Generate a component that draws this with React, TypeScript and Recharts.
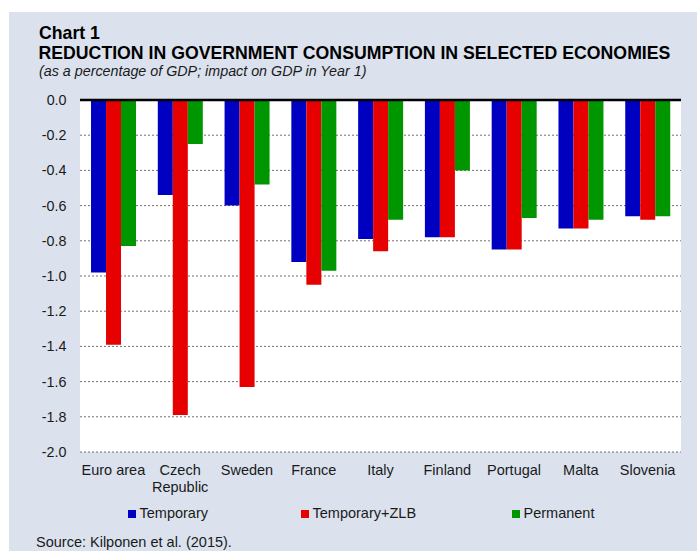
import React from 'react';
import { BarChart, Bar, XAxis, YAxis, CartesianGrid, ReferenceLine } from 'recharts';

const categories = ['Euro area', 'Czech Republic', 'Sweden', 'France', 'Italy', 'Finland', 'Portugal', 'Malta', 'Slovenia'];
const temporary = [-0.98, -0.54, -0.6, -0.92, -0.79, -0.78, -0.85, -0.73, -0.66];
const temporaryZlb = [-1.39, -1.79, -1.63, -1.05, -0.86, -0.78, -0.85, -0.73, -0.68];
const permanent = [-0.83, -0.25, -0.48, -0.97, -0.68, -0.4, -0.67, -0.68, -0.66];
const yTicks = [0, -0.2, -0.4, -0.6, -0.8, -1.0, -1.2, -1.4, -1.6, -1.8, -2.0];

const FONT = '"Liberation Sans", Arial, Helvetica, sans-serif';
const TEXT = '#1a1a1a';

const series = [
  { key: 'temporary', name: 'Temporary', color: '#0000c0', legendLeft: 128 },
  { key: 'temporaryZlb', name: 'Temporary+ZLB', color: '#e60000', legendLeft: 301 },
  { key: 'permanent', name: 'Permanent', color: '#009600', legendLeft: 512 },
];

const chartData = categories.map((name, i) => ({
  name,
  temporary: temporary[i],
  temporaryZlb: temporaryZlb[i],
  permanent: permanent[i],
}));

// long labels wrap onto two lines, like "Czech Republic"
const XTick = (props: any) => {
  const { x, y, payload } = props;
  const label: string = payload.value;
  const lines = label.length > 10 ? label.split(' ') : [label];
  return (
    <text x={x} y={y} textAnchor="middle" fill={TEXT} fontSize={14.5} fontFamily={FONT}>
      {lines.map((l, i) => (
        <tspan key={i} x={x} dy={i === 0 ? 15 : 17}>
          {l}
        </tspan>
      ))}
    </text>
  );
};

export default function App() {
  return (
    <div style={{ position: 'absolute', left: 0, top: 0, width: 697, height: 551, background: '#fff', overflow: 'hidden' }}>
      <div style={{ position: 'absolute', left: 9, top: 12, width: 688, height: 539, background: '#dbe2ee' }} />
      <div style={{ position: 'absolute', left: 39, top: 23, fontFamily: FONT, fontWeight: 'bold', fontSize: 17.7, lineHeight: '20px', color: '#000' }}>
        Chart 1
      </div>
      <div style={{ position: 'absolute', left: 38.5, top: 42.8, fontFamily: FONT, fontWeight: 'bold', fontSize: 17.7, lineHeight: '20px', color: '#000', whiteSpace: 'nowrap' }}>
        REDUCTION IN GOVERNMENT CONSUMPTION IN SELECTED ECONOMIES
      </div>
      <div style={{ position: 'absolute', left: 39, top: 63, fontFamily: FONT, fontStyle: 'italic', fontSize: 14.3, lineHeight: '16px', color: TEXT, whiteSpace: 'nowrap' }}>
        (as a percentage of GDP; impact on GDP in Year 1)
      </div>
      <div style={{ position: 'absolute', left: 0, top: 0 }}>
        <BarChart
          width={697}
          height={551}
          data={chartData}
          margin={{ top: 100, right: 16, left: 0, bottom: 59 }}
          barCategoryGap="16.5%"
          barGap={0}
        >
          <CartesianGrid vertical={false} fill="#fff" stroke="#707070" strokeDasharray="2 2" />
          <XAxis
            dataKey="name"
            axisLine={false}
            tickLine={false}
            tickSize={0}
            tickMargin={8}
            height={40}
            interval={0}
            tick={<XTick />}
          />
          <YAxis
            width={80}
            domain={[-2, 0]}
            ticks={yTicks}
            axisLine={false}
            tickLine={false}
            tickSize={0}
            tickMargin={13.5}
            tickFormatter={(v: number) => v.toFixed(1)}
            tick={{ fontSize: 14.3, fill: TEXT, fontFamily: FONT }}
          />
          {series.map((s) => (
            <Bar key={s.key} dataKey={s.key} name={s.name} fill={s.color} isAnimationActive={false} />
          ))}
          <ReferenceLine y={0} stroke="#000" strokeWidth={2.5} />
        </BarChart>
      </div>
      {series.map((s) => (
        <div
          key={s.key}
          style={{
            position: 'absolute',
            left: s.legendLeft,
            top: 505,
            display: 'flex',
            alignItems: 'center',
            fontFamily: FONT,
            fontSize: 14.5,
            color: TEXT,
            lineHeight: '17px',
            whiteSpace: 'nowrap',
          }}
        >
          <span style={{ display: 'inline-block', width: 7.5, height: 8, background: s.color, marginRight: 4 }} />
          {s.name}
        </div>
      ))}
      <div style={{ position: 'absolute', left: 36, top: 534, fontFamily: FONT, fontSize: 14.5, lineHeight: '16px', color: TEXT, whiteSpace: 'nowrap' }}>
        Source: Kilponen et al. (2015).
      </div>
    </div>
  );
}
